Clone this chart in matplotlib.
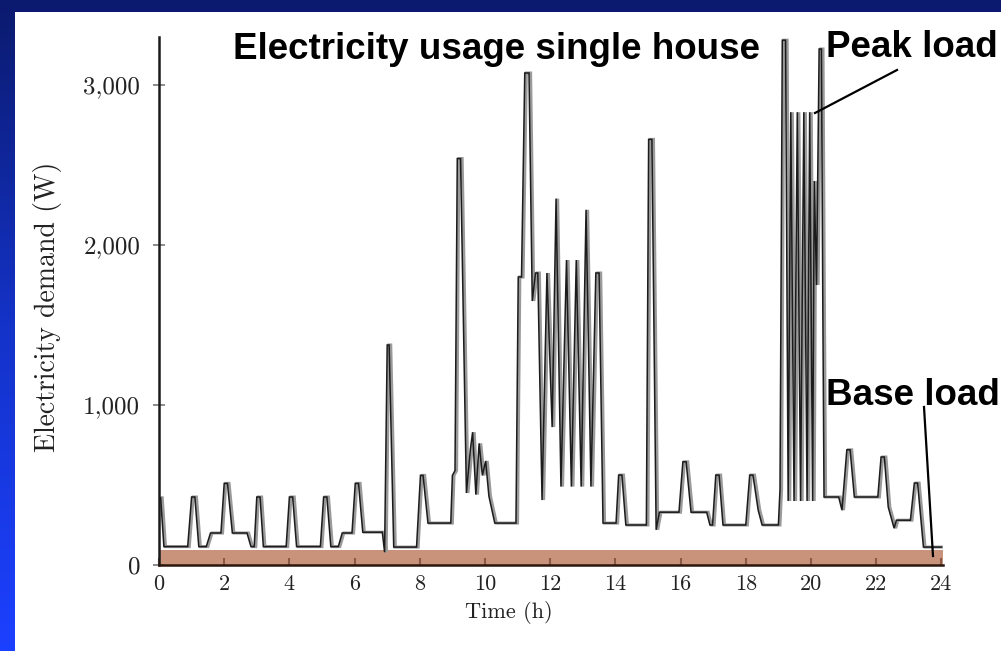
import numpy as np
import matplotlib
matplotlib.use("Agg")
import matplotlib.pyplot as plt
from matplotlib import transforms
from matplotlib.patches import Rectangle
from matplotlib.colors import LinearSegmentedColormap

# ---------------- data ----------------
hours = [0.00, 0.05, 0.15, 0.88, 1.00, 1.10, 1.22, 1.45, 1.58, 1.90, 2.00, 2.10, 2.25, 2.70,
         2.82, 2.92, 3.00, 3.10, 3.20, 3.90, 4.00, 4.10, 4.22, 4.95, 5.05, 5.15, 5.27, 5.50,
         5.62, 5.92, 6.02, 6.12, 6.25, 6.85, 6.92, 7.00, 7.06, 7.20, 7.90, 8.02, 8.10, 8.25,
         8.95, 9.00, 9.08, 9.15, 9.25, 9.43, 9.55, 9.62, 9.72, 9.82, 9.92, 10.02, 10.12, 10.30,
         10.95, 11.02, 11.12, 11.22, 11.35, 11.45, 11.55, 11.62, 11.75, 11.90, 12.06, 12.18,
         12.33, 12.50, 12.65, 12.80, 12.95, 13.10, 13.25, 13.40, 13.50, 13.62, 14.02, 14.10,
         14.20, 14.32, 14.95, 15.02, 15.12, 15.25, 15.35, 15.95, 16.07, 16.17, 16.32, 16.80,
         16.90, 16.98, 17.08, 17.18, 17.30, 18.00, 18.12, 18.22, 18.38, 18.50, 19.00, 19.05,
         19.12, 19.22, 19.30, 19.38, 19.48, 19.58, 19.68, 19.78, 19.88, 19.96, 20.05, 20.10,
         20.17, 20.25, 20.32, 20.36, 20.40, 20.85, 20.95, 21.10, 21.20, 21.33, 22.05, 22.15,
         22.25, 22.37, 22.55, 22.62, 23.05, 23.17, 23.27, 23.45, 24.00]
demand = [420, 420, 115, 115, 425, 425, 115, 115, 200, 200, 510, 510, 200, 200,
          115, 115, 425, 425, 115, 115, 425, 425, 115, 115, 425, 425, 115, 115,
          200, 200, 510, 510, 205, 205, 80, 1375, 1375, 112, 112, 560, 560, 262,
          262, 560, 590, 2540, 2540, 450, 720, 830, 440, 760, 560, 650, 430, 262,
          262, 1800, 1800, 3075, 3075, 1650, 1825, 1825, 406, 1825, 862, 2290,
          490, 1906, 490, 1906, 490, 2220, 490, 1825, 1825, 262, 262, 562,
          562, 250, 250, 2660, 2660, 220, 330, 330, 645, 645, 330, 330,
          250, 250, 562, 562, 250, 250, 562, 562, 343, 250, 250, 475,
          3280, 3280, 400, 2830, 400, 2830, 400, 2830, 400, 2830, 400, 2400,
          1750, 3225, 3225, 1725, 425, 425, 343, 720, 720, 425, 425, 675,
          675, 362, 230, 280, 280, 512, 512, 112, 112]
base_load = 95
x_ticks = [0, 2, 4, 6, 8, 10, 12, 14, 16, 18, 20, 22, 24]
y_ticks = [0, 1000, 2000, 3000]
y_tick_labels = ["0", "1,000", "2,000", "3,000"]

W, H = 1001, 651
fig = plt.figure(figsize=(W / 100, H / 100), dpi=100)

# ---------------- slide background ----------------
bg = fig.add_axes([0, 0, 1, 1], zorder=-10)
grad = np.linspace(0, 1, 256).reshape(-1, 1)
cmap = LinearSegmentedColormap.from_list("slide", ["#0b1a6e", "#1433c8", "#1c40ff"])
bg.imshow(grad, aspect="auto", cmap=cmap, extent=[0, 1, 0, 1], origin="upper")
bg.set_xlim(0, 1)
bg.set_ylim(0, 1)
bg.axis("off")
bg.add_patch(Rectangle((15 / W, 0), 1 - 15 / W, 1 - 12 / H, facecolor="white",
                       edgecolor="none", transform=bg.transAxes))

# ---------------- main axes ----------------
x0, x1 = 159, 943
y0, ytop = 565, 37
ax = fig.add_axes([x0 / W, 1 - y0 / H, (x1 - x0) / W, (y0 - ytop) / H])
ax.patch.set_alpha(0)
ax.set_xlim(0, 24.05)
ax.set_ylim(0, 3300)

ax.fill_between([0, 24.05], 0, base_load, color="#c9937b", lw=0, zorder=1)

shift = transforms.offset_copy(ax.transData, fig=fig, x=1.6, y=0, units="dots")
ax.plot(hours, demand, color="#9a9a9a", lw=2.2, transform=shift, zorder=2,
        solid_joinstyle="miter")
ax.plot(hours, demand, color="#1c1c1c", lw=1.1, zorder=3, solid_joinstyle="miter")

for s in ["top", "right"]:
    ax.spines[s].set_visible(False)
ax.spines["left"].set_color("#1a1a1a")
ax.spines["left"].set_linewidth(1.8)
ax.spines["bottom"].set_color("#2a160c")
ax.spines["bottom"].set_linewidth(1.8)

serif = "cmr10"
ax.set_xticks(x_ticks)
ax.set_xticklabels([str(t) for t in x_ticks], fontfamily=serif, fontsize=16, color="#222222")
ax.set_yticks(y_ticks)
ax.set_yticklabels(y_tick_labels, fontfamily=serif, fontsize=18, color="#222222")
ax.tick_params(axis="x", direction="in", length=5, width=1.5, color="#8b5a45", pad=7)
ax.tick_params(axis="y", direction="inout", length=9, width=1.2, color="#777777", pad=9)

fig.text(48 / W, 1 - 307 / H, "Electricity demand (W)", rotation=90, ha="center",
         va="center", fontfamily=serif, fontsize=20, color="#222222")
fig.text(509 / W, 1 - 612 / H, "Time (h)", ha="center", va="center",
         fontfamily=serif, fontsize=16, color="#222222")

bold = dict(fontfamily="Liberation Sans", fontweight="bold", color="black", fontsize=26.5)
fig.text(233 / W, 1 - 59 / H, "Electricity usage single house", ha="left", va="baseline", **bold)
fig.text(826 / W, 1 - 57 / H, "Peak load", ha="left", va="baseline", **bold)
fig.text(826 / W, 1 - 405 / H, "Base load", ha="left", va="baseline", **bold)

ov = fig.add_axes([0, 0, 1, 1], zorder=10)
ov.set_xlim(0, W)
ov.set_ylim(H, 0)
ov.axis("off")
ov.plot([897, 815], [70, 113], color="black", lw=1.6)
ov.plot([924, 933], [407, 556], color="black", lw=1.6)

fig.savefig("out.png", dpi=100)
